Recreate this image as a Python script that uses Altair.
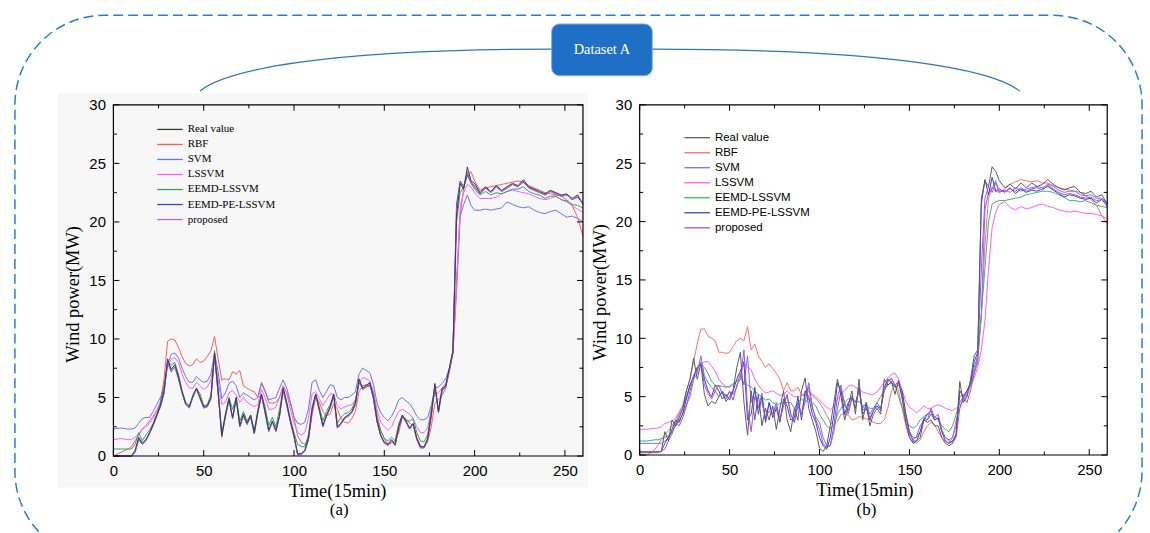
import altair as alt
import pandas as pd

# ---------------- data ----------------
T = [0, 4, 8, 10, 12, 14, 16, 18, 20, 22,
     24, 26, 28, 30, 32, 34, 36, 38, 40, 42,
     44, 46, 48, 50, 52, 54, 56, 58, 60, 62,
     64, 66, 68, 70, 72, 74, 76, 78, 80, 82,
     84, 86, 88, 90, 92, 94, 96, 98, 100, 102,
     104, 106, 108, 110, 112, 114, 116, 118, 120, 122,
     124, 126, 128, 130, 132, 134, 136, 138, 140, 142,
     144, 146, 148, 150, 152, 154, 156, 158, 160, 162,
     164, 166, 168, 170, 172, 174, 176, 178, 180, 182,
     184, 186, 188, 190, 192, 194, 196, 198, 200,
     203, 206, 209, 212, 215, 218, 221, 224, 227, 230,
     233, 236, 239, 242, 245, 248, 251, 254, 257, 260]

SERIES = ["Real value", "RBF", "SVM", "LSSVM", "EEMD-LSSVM", "EEMD-PE-LSSVM", "proposed"]
XMAJ = [0, 50, 100, 150, 200, 250]
XMIN = [25, 75, 125, 175, 225]
YMAJ = [0, 5, 10, 15, 20, 25, 30]
YMIN = [2.5, 7.5, 12.5, 17.5, 22.5, 27.5]

# ----- panel (a) -----
A_REAL = [0, 0, 0, 0, 0.5, 1.6, 1.1, 1.4, 2.0, 2.7,
          3.5, 4.3, 5.5, 8.3, 7.4, 7.8, 6.8, 5.5, 4.5, 4.2,
          5.2, 5.8, 5.0, 4.2, 4.3, 5.0, 8.8, 5.5, 1.7, 3.5,
          4.9, 3.3, 5.0, 2.6, 3.6, 2.8, 3.5, 2.0, 3.8, 5.3,
          3.8, 2.2, 3.0, 2.2, 3.5, 5.8, 4.5, 3.0, 1.8, 0.2,
          0.2, 0.5, 1.5, 4.0, 5.3, 4.0, 2.6, 3.5, 4.2, 5.3,
          2.5, 2.8, 3.3, 3.5, 3.8, 4.5, 6.6, 5.8, 6.0, 6.3,
          5.0, 3.0, 1.8, 1.2, 1.0, 1.4, 1.0, 2.5, 3.5, 3.0,
          2.4, 2.8, 1.5, 0.8, 0.8, 1.5, 3.5, 6.2, 3.8, 5.8,
          6.0, 7.5, 9.0, 20.5, 23.3, 22.8, 24.7, 23.5, 23.3,
          22.5, 23.0, 22.6, 23.1, 22.7, 23.0, 23.3, 23.1, 23.6, 23.0,
          22.8, 22.6, 22.4, 22.7, 22.5, 22.3, 22.4, 22.0, 22.3, 21.5]
A_RBF = [0, 0.3, 0.6, 0.8, 1.3, 1.8, 2.3, 2.6, 3.0, 3.4,
         3.9, 4.6, 6.5, 9.8, 10.0, 9.9, 9.3, 8.5, 7.9, 7.7,
         7.8, 8.3, 8.0, 8.1, 8.5, 9.0, 10.2, 8.3, 6.5, 6.6,
         6.5, 7.2, 7.0, 7.3, 6.0, 5.8, 5.6, 5.5, 5.0, 6.3,
         5.6, 4.6, 4.5, 4.6, 5.0, 6.0, 5.4, 4.5, 3.3, 1.7,
         1.2, 1.0, 1.5, 3.5, 5.0, 4.6, 3.8, 3.4, 3.6, 4.5,
         4.0, 3.2, 2.9, 2.8, 3.2, 3.8, 5.5, 6.0, 6.0, 5.9,
         5.5, 3.5, 2.2, 1.5, 1.0, 1.1, 1.3, 2.0, 3.3, 3.2,
         2.8, 2.6, 1.6, 0.9, 0.7, 1.2, 2.5, 4.5, 4.8, 5.2,
         5.8, 7.2, 8.8, 14.0, 20.5, 23.0, 24.0, 24.3, 23.5,
         22.7, 22.9, 23.0, 23.1, 23.2, 23.3, 23.4, 23.5, 23.4, 23.1,
         22.9, 22.7, 22.5, 22.4, 22.3, 22.2, 21.9, 21.4, 20.4, 18.8]
A_SVM = [2.3, 2.4, 2.3, 2.3, 2.4, 2.8, 3.2, 3.3, 3.3, 3.8,
         4.4, 5.0, 5.8, 7.8, 8.7, 8.8, 8.4, 7.5, 6.8, 6.3,
         6.3, 6.8, 6.5, 6.3, 6.4, 7.0, 8.8, 7.2, 4.9, 5.4,
         6.2, 6.4, 6.0, 5.0, 5.4, 5.2, 5.0, 4.8, 5.0, 6.2,
         5.5, 4.8, 4.9, 5.0, 5.8, 6.5, 5.8, 4.6, 3.3, 2.8,
         2.7, 2.9, 4.0, 6.3, 6.5, 5.6, 5.0, 5.5, 6.1, 6.0,
         5.0, 4.8, 5.0, 5.0, 5.2, 5.5, 7.0, 7.5, 7.3, 7.1,
         6.1, 4.5, 3.7, 3.3, 3.0, 3.4, 4.0, 4.8, 5.0, 4.7,
         4.5, 4.0, 3.4, 3.1, 3.1, 3.3, 4.3, 5.8, 5.9, 6.2,
         6.6, 7.5, 8.9, 15.0, 20.5, 21.5, 22.3, 21.4, 21.0,
         21.0, 21.1, 21.0, 21.1, 21.2, 21.7, 21.5, 21.3, 21.2, 21.3,
         21.0, 20.8, 20.7, 20.9, 21.0, 20.7, 20.4, 20.5, 20.3, 20.0]
A_LSSVM = [1.4, 1.5, 1.4, 1.4, 1.6, 1.9, 2.3, 2.5, 2.8, 3.2,
           3.9, 4.6, 5.8, 7.6, 8.3, 8.4, 8.0, 7.0, 6.3, 5.8,
           5.8, 6.3, 6.0, 5.7, 5.9, 6.5, 8.4, 6.5, 4.4, 4.6,
           5.4, 5.6, 5.2, 4.6, 5.0, 4.6, 4.4, 4.2, 4.4, 5.7,
           5.0, 4.0, 4.0, 4.2, 5.0, 6.0, 5.3, 4.0, 2.8, 2.0,
           1.8, 2.0, 3.2, 5.3, 5.5, 4.9, 4.3, 4.8, 5.3, 5.3,
           4.3, 4.0, 4.2, 4.3, 4.4, 4.8, 6.2, 6.7, 6.6, 6.4,
           5.5, 3.9, 2.9, 2.5, 2.2, 2.5, 3.2, 3.8, 4.0, 3.8,
           3.6, 3.2, 2.5, 2.0, 2.0, 2.4, 4.0, 5.3, 5.4, 5.8,
           6.2, 7.3, 8.8, 14.5, 21.3, 22.5, 23.2, 23.0, 22.5,
           22.0, 22.0, 22.0, 22.1, 22.4, 22.6, 22.7, 22.6, 22.5, 22.4,
           22.2, 22.0, 21.9, 22.0, 22.2, 21.9, 21.7, 21.4, 21.1, 20.8]
A_EEMD = [0.6, 0.6, 0.6, 0.6, 1.0, 2.0, 1.3, 1.8, 2.2, 2.8,
          3.6, 4.5, 6.0, 8.0, 7.8, 8.0, 7.0, 5.6, 4.6, 4.3,
          5.0, 5.8, 5.3, 4.3, 4.4, 5.2, 9.0, 5.8, 2.0, 3.6,
          5.0, 4.0, 5.0, 3.0, 3.8, 3.0, 3.5, 2.2, 4.0, 5.3,
          4.2, 2.6, 3.3, 2.5, 4.0, 5.8, 4.6, 3.2, 2.0, 1.0,
          0.8, 0.8, 1.8, 4.2, 5.3, 4.2, 3.0, 3.8, 4.4, 5.2,
          2.8, 3.3, 3.6, 3.7, 4.0, 4.8, 6.2, 6.0, 6.1, 6.2,
          5.2, 3.2, 2.2, 1.5, 1.3, 1.6, 1.3, 2.8, 3.5, 3.0,
          3.0, 3.2, 2.0, 1.3, 1.2, 1.8, 3.8, 5.8, 4.0, 5.6,
          6.0, 7.4, 9.0, 20.0, 22.5, 23.0, 24.2, 23.3, 22.8,
          22.3, 22.6, 22.3, 22.5, 22.4, 22.6, 22.8, 22.8, 23.0, 22.6,
          22.4, 22.3, 22.0, 22.2, 22.2, 21.9, 21.8, 21.5, 21.4, 21.2]
A_PE = [0, 0, 0, 0, 0.3, 1.4, 1.0, 1.3, 1.9, 2.6,
        3.4, 4.2, 5.3, 8.0, 7.2, 7.6, 6.6, 5.4, 4.4, 4.1,
        5.0, 5.7, 4.9, 4.1, 4.2, 4.9, 8.6, 5.3, 1.8, 3.3,
        4.8, 3.2, 4.8, 2.5, 3.4, 2.7, 3.3, 1.9, 3.7, 5.2,
        3.7, 2.1, 2.9, 2.1, 3.4, 5.6, 4.3, 2.9, 1.6, 0.1,
        0.2, 0.4, 1.4, 3.8, 5.2, 3.9, 2.5, 3.4, 4.1, 5.1,
        2.4, 2.7, 3.2, 3.4, 3.7, 4.4, 6.4, 5.7, 5.9, 6.1,
        4.9, 2.9, 1.7, 1.1, 0.9, 1.3, 0.9, 2.4, 3.4, 2.9,
        2.3, 2.7, 1.4, 0.7, 0.7, 1.4, 3.4, 6.0, 3.7, 5.6,
        5.9, 7.3, 8.8, 21.5, 23.5, 23.0, 24.0, 23.4, 23.0,
        22.4, 22.9, 22.5, 23.0, 22.6, 22.9, 23.2, 23.0, 23.4, 22.9,
        22.7, 22.5, 22.3, 22.6, 22.4, 22.2, 22.3, 21.9, 22.1, 21.6]
A_PROP = [0, 0, 0, 0, 0.4, 1.5, 1.1, 1.4, 1.9, 2.6,
          3.4, 4.2, 5.4, 8.1, 7.3, 7.6, 6.7, 5.4, 4.4, 4.1,
          5.1, 5.7, 4.9, 4.1, 4.2, 4.9, 8.7, 5.4, 1.6, 3.4,
          4.8, 3.2, 4.9, 2.5, 3.5, 2.7, 3.4, 1.9, 3.7, 5.2,
          3.7, 2.1, 2.9, 2.1, 3.4, 5.7, 4.4, 2.9, 1.7, 0.1,
          0.1, 0.4, 1.4, 3.9, 5.2, 3.9, 2.5, 3.4, 4.1, 5.2,
          2.4, 2.7, 3.2, 3.4, 3.7, 4.4, 6.5, 5.7, 5.9, 6.2,
          4.9, 2.9, 1.7, 1.1, 0.9, 1.3, 0.9, 2.4, 3.4, 2.9,
          2.3, 2.7, 1.4, 0.7, 0.7, 1.4, 3.4, 6.1, 3.7, 5.7,
          5.9, 7.4, 8.9, 21.0, 23.2, 23.1, 24.3, 23.4, 23.1,
          22.4, 22.9, 22.5, 23.0, 22.6, 22.9, 23.2, 23.0, 23.5, 22.9,
          22.7, 22.5, 22.3, 22.6, 22.4, 22.2, 22.3, 21.9, 22.2, 21.6]

# ----- panel (b) -----
B_REAL = [0.2, 0.2, 0.2, 0.2, 0.3, 2.0, 1.2, 3.0, 2.5, 3.2,
          4.0, 5.5, 6.5, 8.3, 6.5, 7.8, 5.2, 4.2, 4.6, 4.4,
          5.0, 5.4, 4.6, 5.0, 5.6, 7.5, 8.8, 4.5, 1.7, 5.5,
          3.0, 5.2, 2.5, 4.0, 3.0, 4.2, 2.2, 4.0, 5.5, 3.0,
          2.0, 4.0, 3.0, 5.5, 6.6, 4.0, 3.0, 2.0, 0.6, 0.3,
          0.8, 2.5, 4.5, 6.5, 5.0, 3.0, 4.2, 5.5, 3.5, 6.5,
          3.0, 4.5, 2.5, 3.5, 4.0, 3.5, 6.5, 6.0, 6.3, 5.2,
          6.4, 4.8, 2.8, 1.5, 1.0, 1.2, 1.5, 3.0, 2.8, 3.0,
          2.5, 2.5, 1.5, 1.0, 0.8, 1.0, 1.8, 6.3, 4.5, 5.0,
          6.5, 8.5, 9.0, 22.0, 23.5, 23.0, 24.7, 24.3, 23.5,
          22.9, 23.2, 22.8, 23.3, 22.9, 23.3, 23.0, 23.2, 23.6, 23.2,
          22.9, 22.7, 22.9, 23.0, 22.5, 22.4, 22.6, 22.1, 22.3, 21.5]
B_RBF = [0, 0, 0.4, 0.8, 1.3, 1.7, 2.1, 2.5, 3.0, 3.6,
         4.3, 5.5, 6.5, 8.0, 9.5, 10.8, 10.8, 10.2, 10.0, 9.8,
         8.8, 8.8, 8.7, 8.8, 9.3, 9.8, 10.0, 9.8, 11.0, 9.0,
         9.5, 8.5, 8.0, 7.5, 7.8, 7.4, 7.0, 6.5, 5.5, 6.2,
         5.5, 5.5, 5.8, 5.2, 5.0, 5.5, 5.1, 4.8, 4.5, 4.0,
         3.4, 2.8, 2.6, 2.9, 3.5, 3.5, 3.4, 3.0, 3.1, 3.3,
         3.2, 3.1, 3.0, 2.8, 2.7, 2.7, 3.0, 4.0, 5.5, 6.0,
         5.5, 4.0, 2.5, 1.5, 1.1, 1.0, 1.3, 2.0, 2.5, 2.8,
         2.6, 2.0, 1.5, 1.2, 1.0, 1.5, 3.0, 4.0, 4.8, 5.5,
         6.0, 7.0, 8.0, 12.0, 18.0, 22.0, 23.0, 22.6, 22.5,
         22.8, 23.2, 23.4, 23.6, 23.5, 23.4, 23.5, 23.3, 23.3, 23.1,
         22.9, 22.8, 22.7, 22.6, 22.5, 22.2, 21.9, 21.4, 20.5, 19.8]
B_SVM = [1.0, 1.0, 1.0, 1.0, 1.0, 1.2, 1.5, 2.0, 2.5, 3.0,
         3.5, 4.3, 5.0, 6.5, 7.0, 8.5, 6.8, 6.2, 5.8, 5.5,
         5.0, 5.5, 5.0, 5.4, 5.2, 5.8, 7.0, 6.0, 8.5, 4.5,
         5.5, 4.0, 5.3, 3.0, 4.5, 3.5, 4.5, 3.0, 4.5, 5.0,
         3.5, 2.8, 4.5, 3.5, 5.2, 5.8, 4.0, 3.2, 2.8, 1.5,
         0.8, 0.8, 2.0, 4.0, 5.5, 4.5, 3.5, 4.8, 4.5, 5.5,
         4.0, 4.5, 3.5, 4.0, 4.2, 4.0, 5.5, 6.3, 6.5, 6.0,
         6.3, 5.3, 3.5, 2.0, 1.5, 1.5, 2.0, 3.2, 3.0, 3.5,
         3.0, 3.2, 2.0, 1.5, 1.3, 1.5, 2.5, 5.0, 5.2, 5.0,
         6.0, 7.5, 8.5, 12.0, 21.0, 22.5, 22.8, 23.5, 22.5,
         22.7, 22.5, 22.9, 22.6, 22.8, 22.9, 23.0, 22.9, 23.2, 23.0,
         22.7, 22.5, 22.6, 22.6, 22.3, 22.2, 22.3, 22.0, 22.0, 21.6]
B_LSSVM = [2.2, 2.2, 2.3, 2.3, 2.4, 2.7, 2.8, 2.9, 3.2, 3.7,
           4.2, 5.0, 5.8, 6.8, 7.4, 7.8, 8.0, 8.0, 7.6, 7.2,
           6.5, 6.1, 5.9, 5.8, 6.0, 6.3, 6.8, 7.8, 7.5, 7.3,
           6.5, 6.0, 5.6, 5.3, 5.4, 5.5, 5.3, 5.1, 5.2, 5.5,
           5.2, 5.0, 5.0, 5.1, 5.3, 5.5, 5.2, 5.0, 4.7, 4.4,
           4.1, 3.9, 4.2, 4.8, 5.2, 5.5, 5.9, 6.0, 5.8, 5.6,
           5.4, 5.3, 5.2, 5.2, 5.4, 5.8, 6.2, 6.6, 6.9, 7.0,
           6.5, 5.5, 4.6, 4.1, 3.9, 3.6, 3.9, 4.2, 4.0, 4.0,
           4.2, 4.3, 4.2, 4.0, 3.9, 3.8, 4.0, 4.3, 4.6, 5.3,
           5.9, 6.6, 7.5, 9.0, 11.5, 16.0, 19.5, 20.8, 21.5,
           21.7, 21.2, 21.0, 21.3, 21.1, 21.2, 21.4, 21.5, 21.3, 21.2,
           21.0, 20.9, 20.8, 20.9, 20.8, 20.7, 20.7, 20.6, 20.5, 20.2]
B_EEMD = [1.2, 1.2, 1.3, 1.3, 1.4, 1.5, 1.7, 1.9, 2.7, 3.4,
          4.0, 5.0, 6.0, 6.8, 7.5, 7.8, 7.5, 7.0, 6.3, 6.0,
          5.9, 5.9, 5.8, 5.9, 6.1, 6.3, 6.5, 6.3, 6.0, 5.8,
          5.5, 5.2, 5.0, 4.7, 4.8, 4.5, 4.3, 4.4, 4.5, 4.5,
          4.5, 4.0, 4.5, 4.8, 4.5, 4.8, 4.5, 4.2, 3.5, 3.0,
          2.5, 2.3, 2.5, 3.5, 4.0, 4.5, 4.8, 4.8, 4.5, 4.6,
          4.2, 4.3, 4.0, 4.0, 4.5, 5.0, 5.5, 6.0, 6.2, 6.0,
          5.0, 4.0, 3.0, 2.5, 2.3, 2.5, 3.0, 3.3, 3.5, 3.5,
          3.3, 3.0, 2.5, 2.2, 2.0, 2.5, 3.5, 4.5, 5.0, 5.5,
          6.0, 7.0, 8.5, 12.0, 16.0, 20.0, 21.5, 21.7, 21.8,
          21.8, 21.9, 22.0, 22.1, 22.3, 22.4, 22.5, 22.6, 22.6, 22.5,
          22.3, 22.1, 21.8, 21.8, 21.7, 21.8, 21.6, 21.4, 21.3, 21.2]
B_PE = [0.3, 0.3, 0.3, 0.3, 0.3, 1.0, 1.5, 2.2, 3.0, 2.8,
        3.6, 4.8, 6.0, 6.6, 7.5, 7.8, 6.5, 5.5, 5.0, 6.0,
        5.5, 4.8, 5.2, 4.7, 5.5, 6.5, 7.2, 8.0, 3.0, 3.5,
        5.8, 3.5, 5.0, 2.8, 4.5, 3.2, 4.0, 2.8, 4.8, 4.2,
        3.0, 3.2, 5.0, 3.0, 5.5, 5.0, 3.5, 2.8, 1.5, 0.8,
        0.5, 1.5, 3.5, 6.2, 5.5, 3.5, 4.5, 5.0, 4.0, 5.8,
        3.5, 4.0, 3.0, 3.8, 4.2, 3.8, 5.8, 6.5, 6.2, 5.8,
        6.0, 5.5, 3.5, 2.0, 1.2, 1.2, 2.0, 3.0, 3.5, 3.8,
        3.0, 3.2, 2.0, 1.2, 1.0, 1.2, 1.8, 5.5, 5.0, 5.5,
        6.2, 8.0, 8.8, 21.5, 23.6, 22.3, 23.8, 22.6, 22.8,
        22.5, 22.9, 22.4, 22.8, 22.5, 22.7, 22.6, 22.8, 23.0, 22.7,
        22.4, 22.1, 22.3, 22.2, 22.0, 21.9, 22.0, 21.6, 21.9, 21.3]
B_PROP = [0.3, 0.3, 0.3, 0.3, 0.3, 0.5, 1.2, 1.8, 2.8, 2.5,
          3.2, 4.2, 5.5, 6.8, 7.3, 8.0, 6.0, 5.3, 4.8, 5.5,
          6.0, 5.2, 4.8, 5.5, 4.7, 6.0, 6.5, 9.0, 4.0, 2.0,
          5.0, 4.2, 4.5, 3.2, 3.8, 3.5, 4.2, 3.0, 4.2, 5.2,
          3.5, 2.8, 4.2, 3.5, 4.5, 6.2, 4.2, 3.0, 2.2, 1.0,
          0.6, 0.8, 2.5, 5.0, 6.0, 4.2, 3.8, 5.0, 4.5, 5.5,
          3.8, 4.2, 3.2, 3.8, 4.5, 4.0, 5.5, 6.3, 6.6, 6.0,
          6.2, 5.0, 3.2, 1.8, 1.3, 1.6, 2.5, 3.0, 3.0, 4.0,
          3.2, 3.5, 2.2, 1.5, 1.2, 1.1, 1.5, 4.0, 5.0, 4.5,
          5.5, 7.0, 8.0, 16.0, 22.0, 23.0, 22.5, 23.3, 22.6,
          22.6, 22.8, 22.6, 22.9, 22.6, 22.8, 22.9, 22.7, 23.1, 22.8,
          22.5, 22.3, 22.4, 22.3, 22.1, 22.0, 22.1, 21.8, 21.9, 21.5]

A_VALS = [A_REAL, A_RBF, A_SVM, A_LSSVM, A_EEMD, A_PE, A_PROP]
B_VALS = [B_REAL, B_RBF, B_SVM, B_LSSVM, B_EEMD, B_PE, B_PROP]
A_COLORS = ["#3c3c3c", "#ff5a5a", "#6e6eff", "#ff5cff", "#2fa35c", "#4a3fc4", "#b066ff"]
B_COLORS = ["#5c5c5c", "#ff6e6e", "#7070ff", "#ff5cff", "#3db36a", "#4040c8", "#a84cf0"]

SERIF = "Liberation Serif"
SANS = "Liberation Sans"
ONE = pd.DataFrame({"k": [0]})


def long_df(vals):
    order = [1, 2, 3, 4, 5, 6, 0]  # real value drawn last (on top)
    ts, ps, ss = [], [], []
    for i in order:
        v = vals[i]
        assert len(v) == len(T), (SERIES[i], len(v))
        ts += T
        ps += v
        ss += [SERIES[i]] * len(T)
    return pd.DataFrame({"t": ts, "p": ps, "s": ss})


def make_panel(vals, colors, W, H, leg, caption, xt_x, yt_x, yt_y, pre_layers=()):
    xs = alt.Scale(domain=[0, 260], nice=False, zero=False)
    ys = alt.Scale(domain=[0, 30], nice=False, zero=False)
    xax = alt.Axis(
        values=XMAJ, title="Time(15min)", domain=False, ticks=False, grid=False,
        labelFont=SANS, labelFontSize=15, labelColor="black", labelPadding=8,
        labelFlush=False, titleFont=SERIF, titleFontSize=18.5,
        titleFontWeight="normal", titleColor="black", titleX=xt_x, titleY=35,
        titleAlign="center", titleBaseline="middle", zindex=1)
    yax = alt.Axis(
        values=YMAJ, title="Wind power(MW)", domain=False, ticks=False, grid=False,
        labelFont=SANS, labelFontSize=15, labelColor="black", labelPadding=8,
        labelFlush=False, titleFont=SERIF, titleFontSize=18.5,
        titleFontWeight="normal", titleColor="black", titleAngle=270,
        titleX=yt_x, titleY=yt_y, titleAlign="center", titleBaseline="middle",
        zindex=1)
    layers = list(pre_layers)

    lines = alt.Chart(long_df(vals)).mark_line(strokeWidth=1).encode(
        x=alt.X("t:Q", scale=xs, axis=xax, title="Time(15min)"),
        y=alt.Y("p:Q", scale=ys, axis=yax, title="Wind power(MW)"),
        color=alt.Color("s:N", scale=alt.Scale(domain=SERIES, range=colors), legend=None),
    )
    layers.append(lines)

    def xticks(v, bottom, L):
        y0, y1 = (H, H - L) if bottom else (0, L)
        return alt.Chart(pd.DataFrame({"t": v})).mark_rule(color="black", strokeWidth=1).encode(
            x=alt.X("t:Q", scale=xs, axis=xax, title="Time(15min)"),
            y=alt.value(y0), y2=alt.value(y1))

    def yticks(v, left, L):
        x0, x1 = (0, L) if left else (W, W - L)
        return alt.Chart(pd.DataFrame({"p": v})).mark_rule(color="black", strokeWidth=1).encode(
            y=alt.Y("p:Q", scale=ys, axis=yax, title="Wind power(MW)"),
            x=alt.value(x0), x2=alt.value(x1))

    for b in (True, False):
        layers.append(xticks(XMAJ, b, 6))
        layers.append(xticks(XMIN, b, 3.5))
        layers.append(yticks(YMAJ, b, 6))
        layers.append(yticks(YMIN, b, 3.5))

    frame = alt.Chart(ONE).mark_rect(fillOpacity=0, stroke="black", strokeWidth=1.2).encode(
        x=alt.value(0), x2=alt.value(W), y=alt.value(0), y2=alt.value(H))
    layers.append(frame)

    lx0, lx1, tx, ly0, dy, font, fsize = leg
    for i, name in enumerate(SERIES):
        yy = ly0 + i * dy
        layers.append(alt.Chart(ONE).mark_rule(color=colors[i], strokeWidth=1.3).encode(
            x=alt.value(lx0), x2=alt.value(lx1), y=alt.value(yy)))
        layers.append(alt.Chart(ONE).mark_text(
            text=name, font=font, fontSize=fsize, align="left", baseline="middle",
            color="black").encode(x=alt.value(tx), y=alt.value(yy)))

    cx, cy, ctext = caption
    layers.append(alt.Chart(ONE).mark_text(
        text=ctext, font=SERIF, fontSize=17, align="center", baseline="middle",
        color="black").encode(x=alt.value(cx), y=alt.value(cy)))

    return alt.layer(*layers).properties(width=W, height=H)


# ---------- decorations (panel (a) coordinates; origin = plot top-left) ----------
bg = alt.Chart(ONE).mark_rect(fill="#f7f7f7").encode(
    x=alt.value(-56), x2=alt.value(477), y=alt.value(-12), y2=alt.value(385))

BORDER_PATH = ("M -75.2 429 A 90 90 0 0 1 -99 368 L -99 0 A 90 90 0 0 1 -9 -90 "
               "L 944 -90 A 90 90 0 0 1 1034 0 L 1034 368 A 90 90 0 0 1 1010.2 429")
border = alt.Chart(ONE).mark_point(
    shape=BORDER_PATH, size=4, filled=False, opacity=1, stroke="#2a7ccf",
    strokeWidth=1.5, strokeDash=[10, 5]).encode(x=alt.value(0), y=alt.value(0))

ARC_L = "M 87 -14 C 113.5 -35 210.5 -56 444 -56"
ARC_R = "M 540 -56 C 782.6 -56 883.5 -35 911 -14"
arcs = [alt.Chart(ONE).mark_point(
    shape=p, size=4, filled=False, opacity=1, stroke="#2f74c6", strokeWidth=1.2
).encode(x=alt.value(0), y=alt.value(0)) for p in (ARC_L, ARC_R)]

box = alt.Chart(ONE).mark_rect(fill="#1f6fc6", stroke="#7fb0e6", strokeWidth=1, cornerRadius=8).encode(
    x=alt.value(440.5), x2=alt.value(541.7), y=alt.value(-81.3), y2=alt.value(-29.3))
box_text = alt.Chart(ONE).mark_text(
    text="Dataset A", font=SERIF, fontSize=14.5, color="white", align="center",
    baseline="middle").encode(x=alt.value(491), y=alt.value(-55.3))

panel_a = make_panel(
    A_VALS, A_COLORS, 472, 353,
    leg=(44, 69.7, 74.7, 24.7, 15.1, SERIF, 11),
    caption=(227, 407, "(a)"), xt_x=225, yt_x=-41.5, yt_y=190,
    pre_layers=[bg, border] + arcs + [box, box_text])

panel_b = make_panel(
    B_VALS, B_COLORS, 470, 352,
    leg=(45, 70.7, 75.7, 33, 15.1, SANS, 11.5),
    caption=(228, 407, "(b)"), xt_x=226, yt_x=-40, yt_y=188)

chart = alt.hconcat(panel_a, panel_b, spacing=57, bounds="flush").resolve_scale(
    color="independent"
).properties(
    padding={"left": 11, "top": 11, "right": 4, "bottom": 0}
).configure(background="white").configure_view(stroke=None)

chart.save("out.html", embed_options={"renderer": "svg", "actions": False})
